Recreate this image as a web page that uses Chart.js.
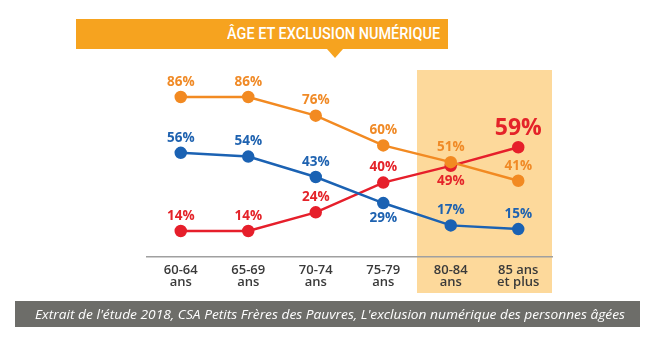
<!DOCTYPE html>
<html>
<head>
<meta charset="utf-8">
<script src="https://cdn.jsdelivr.net/npm/chart.js@4/dist/chart.umd.min.js"></script>
<style>
  html, body { margin: 0; padding: 0; background: #fff; }
  #wrap { position: relative; width: 657px; height: 341px; overflow: hidden; background: #fff; }
  #c { position: absolute; left: 0; top: 0; }
  #banner { position: absolute; left: 76px; top: 19px; width: 372px; height: 30px; background: #f6a31f; }
  #bannerText { position: absolute; right: 8px; top: 0; height: 30px; line-height: 30px; color: #fff;
    font-family: Roboto, sans-serif; font-size: 16.5px; font-weight: 500; white-space: nowrap; transform-origin: right center; }
  #pointer { position: absolute; left: 327px; top: 49px; width: 0; height: 0;
    border-left: 8px solid transparent; border-right: 8px solid transparent; border-top: 9px solid #f6a31f; }
  #caption { position: absolute; left: 15px; top: 301px; width: 625px; height: 26px; background: rgba(98,98,94,0.93); }
  #captionText { position: absolute; left: 20px; top: 0; height: 26px; line-height: 26px; color: #fff;
    font-family: "Open Sans", sans-serif; font-style: italic; font-size: 13px; white-space: nowrap; transform-origin: left center; }
</style>
</head>
<body>
<div id="wrap">
  <canvas id="c" width="657" height="341"></canvas>
  <div id="banner"><span id="bannerText"></span></div>
  <div id="pointer"></div>
  <div id="caption"><span id="captionText"></span></div>
</div>
<script>
const titleText = "ÂGE ET EXCLUSION NUMÉRIQUE";
const captionText = "Extrait de l'étude 2018, CSA Petits Frères des Pauvres, L'exclusion numérique des personnes âgées";
const categories = [["60-64", "ans"], ["65-69", "ans"], ["70-74", "ans"], ["75-79", "ans"], ["80-84", "ans"], ["85 ans", "et plus"]];
const seriesNames = ["N'utilise pas un ordinateur", "N'utilise internet qu'en se déplaçant", "N'utilise pas internet"];
const orangeValues = [86, 86, 76, 60, 51, 41];
const blueValues = [56, 54, 43, 29, 17, 15];
const redValues = [14, 14, 24, 40, 49, 59];
const highlightedCategories = [4, 5];

document.getElementById('bannerText').textContent = titleText;
document.getElementById('captionText').textContent = captionText;

function fitWidth(el, target) {
  const w = el.getBoundingClientRect().width;
  if (w > 0) el.style.transform = 'scaleX(' + (target / w) + ')';
}
fitWidth(document.getElementById('bannerText'), 213);
fitWidth(document.getElementById('captionText'), 590);

const ORANGE = '#f28a22', BLUE = '#1b62b3', RED = '#e61f2b';

const highlightPlugin = {
  id: 'highlight',
  beforeDraw(chart) {
    const ctx = chart.ctx, xs = chart.scales.x, ys = chart.scales.y;
    const half = (xs.getPixelForValue(1) - xs.getPixelForValue(0)) / 2;
    const x0 = xs.getPixelForValue(highlightedCategories[0]) - half;
    const x1 = xs.getPixelForValue(highlightedCategories[highlightedCategories.length - 1]) + half;
    const top = ys.getPixelForValue(100) - 1;
    ctx.save();
    ctx.fillStyle = '#fdd99b';
    ctx.fillRect(x0, top, x1 - x0, 293 - top);
    ctx.restore();
  }
};

const labelPlugin = {
  id: 'valueLabels',
  afterDatasetsDraw(chart) {
    const ctx = chart.ctx;
    chart.data.datasets.forEach((ds, i) => {
      const meta = chart.getDatasetMeta(i);
      meta.data.forEach((pt, j) => {
        const below = ds.labelBelow && ds.labelBelow[j];
        const big = ds.labelBig && ds.labelBig[j];
        ctx.save();
        ctx.fillStyle = ds.labelColor;
        ctx.textAlign = 'center';
        ctx.textBaseline = 'middle';
        ctx.font = (big ? '700 23px' : '700 13.5px') + ' "Open Sans", sans-serif';
        const dy = big ? -19 : (below ? 15 : -15);
        ctx.fillText(ds.data[j] + '%', pt.x, pt.y + dy);
        ctx.restore();
      });
    });
  }
};

function makeDataset(name, values, color, labelColor, labelBelow, labelBig) {
  return {
    label: name, data: values, borderColor: color, backgroundColor: color,
    pointBackgroundColor: color, pointBorderColor: color, pointRadius: 5, pointHoverRadius: 5,
    borderWidth: 2.5, tension: 0, fill: false, labelColor, labelBelow, labelBig
  };
}

new Chart(document.getElementById('c'), {
  type: 'line',
  data: {
    labels: categories,
    datasets: [
      makeDataset(seriesNames[0], orangeValues, ORANGE, '#f08a26', [], []),
      makeDataset(seriesNames[1], blueValues, BLUE, '#1e62b0', [false, false, false, true, false, false], []),
      makeDataset(seriesNames[2], redValues, RED, '#e42329', [false, false, false, false, true, false], [false, false, false, false, false, true])
    ]
  },
  options: {
    responsive: false,
    animation: false,
    events: [],
    layout: { padding: { left: 147, right: 105, top: 71, bottom: 0 } },
    plugins: { legend: { display: false }, title: { display: false }, tooltip: { enabled: false } },
    scales: {
      y: { display: false, min: 0, max: 100 },
      x: {
        offset: true,
        grid: { display: false, drawTicks: false },
        border: { display: true, color: '#a0a0a0', width: 1.5 },
        ticks: { color: '#3a3a3a', padding: 8, maxRotation: 0, autoSkip: false,
          font: { family: '"Open Sans", sans-serif', size: 13, weight: '600', lineHeight: 0.88 } },
        afterFit(scale) { scale.height = 341 - 257; }
      }
    }
  },
  plugins: [highlightPlugin, labelPlugin]
});
</script>
</body>
</html>
